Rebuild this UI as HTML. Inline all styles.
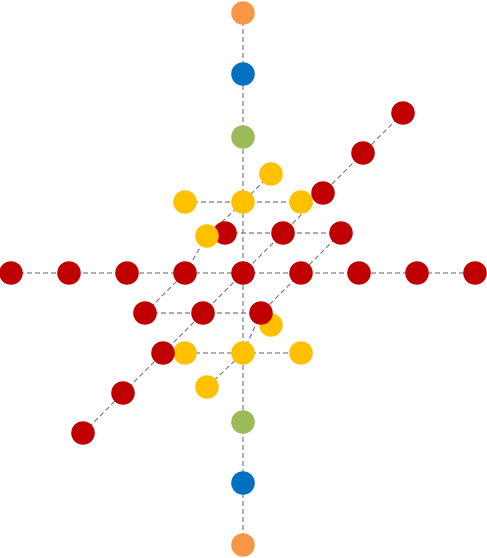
<!DOCTYPE html>
<html><head><meta charset="utf-8"><style>
html,body{margin:0;padding:0;background:#fff;width:487px;height:558px;overflow:hidden}
svg{display:block}
</style></head><body>
<svg id="chart" width="487" height="558" viewBox="0 0 487 558" xmlns="http://www.w3.org/2000/svg">
<g id="lines"></g>
<g id="dots"></g>
</svg>
<script>
// point data: [x units, vertical units, depth units, color key]
const pointX = [-4,-3,-2,-1,1,2,3,4, 0,0,0,0,0,0,0,0,0, -1,1,-1,1,  0,-1,1,0,0, 0,-1,1,0,0, 0,0,0,0,0,0];
const pointV = [0,0,0,0,0,0,0,0, 0,0,0,0,0,0,0,0,0, 0,0,0,0,  7.1,7.1,7.1,7.1,7.3, -8,-8,-8,-8,-7.8, 13.6,-14.9,19.9,-21,26,-27.2];
const pointZ = [0,0,0,0,0,0,0,0, -4,-3,-2,-1,0,1,2,3,4, 1,1,-1,-1,  0,0,0,0.7,-0.9, 0,0,0,0.7,-0.9, 0,0,0,0,0,0];
const pointC = ["r","r","r","r","r","r","r","r", "r","r","r","r","r","r","r","r","r", "r","r","r","r",
  "y","y","y","y","y", "y","y","y","y","y", "g","g","b","b","o","o"];
// draw order tweak: later items drawn on top
const drawOrder = [26,27,28,29,30,21,22,23,24, 0,1,2,3,4,5,6,7, 8,9,10,11,12,13,14,15,16,17,18,19,20, 25,31,32,33,34,35,36];
// polylines as point lists [x,v,z]
const lineSegs = [
  [[0,26,0],[0,-27.2,0]],
  [[-4,0,0],[4,0,0]],
  [[0,0,-4],[0,0,4]],
  [[0,7.1,0.7],[0,7.1,0],[0,7.3,-0.9],[-1,0,0],[-1,0,-1]],
  [[1,0,1],[1,0,0],[1,0,-1],[0,-8,0],[0,-7.8,-0.9]],
  [[-1,7.1,0],[1,7.1,0]],
  [[-1,0,1],[1,0,1]],
  [[-1,0,-1],[1,0,-1]],
  [[0,0,-2],[1,-8,0]]
];
const colors = {r:"#C00000",y:"#FFC000",g:"#9BBB59",b:"#0070C0",o:"#F79646"};
const cx=243, cy=273;
function sx(x,v,z){return cx+58*x+40*z;}
function sy(x,v,z){return cy-10*v-40*z;}
const NS="http://www.w3.org/2000/svg";
const lg=document.getElementById('lines');
lineSegs.forEach((seg,i)=>{
  const pl=document.createElementNS(NS,'polyline');
  pl.setAttribute('points',seg.map(p=>sx(...p)+','+sy(...p)).join(' '));
  pl.setAttribute('fill','none');pl.setAttribute('stroke','#7f7f7f');
  pl.setAttribute('stroke-width','1.2');pl.setAttribute('stroke-dasharray','5,3');
  
  
  lg.appendChild(pl);
});
const dg=document.getElementById('dots');
drawOrder.forEach(i=>{
  const c=document.createElementNS(NS,'circle');
  c.setAttribute('cx',sx(pointX[i],pointV[i],pointZ[i]));
  c.setAttribute('cy',sy(pointX[i],pointV[i],pointZ[i]));
  c.setAttribute('r','11.8');
  c.setAttribute('fill',colors[pointC[i]]);
  
  
  dg.appendChild(c);
});
</script>
</body></html>
